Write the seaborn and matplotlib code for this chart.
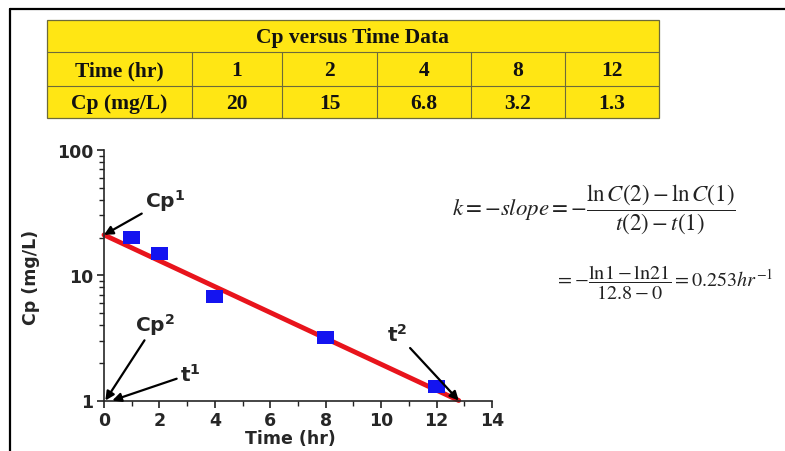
import numpy as np
import pandas as pd
import matplotlib
matplotlib.use("Agg")
import matplotlib.pyplot as plt
from matplotlib.patches import Rectangle
from matplotlib.lines import Line2D
from matplotlib.ticker import FixedLocator, NullFormatter, FixedFormatter
import seaborn as sns

# data
time_hr = [1, 2, 4, 8, 12]
cp_mgL = [20, 15, 6.8, 3.2, 1.3]
cp_labels = ["20", "15", "6.8", "3.2", "1.3"]
fit_time = [0, 12.8]
fit_cp = [21, 1]

RED = "#e8141c"
BLUE = "#1414f0"
YELLOW = "#ffe614"

sns.set_style("ticks")
plt.rcParams["font.family"] = ["DejaVu Sans"]
plt.rcParams["axes.linewidth"] = 1.2

W, H = 785, 452
fig = plt.figure(figsize=(W / 100, H / 100), dpi=100)

# main plot
ax = fig.add_axes([104 / W, 1 - 401.5 / H, 388 / W, 250.5 / H])
ax.patch.set_alpha(0)

df_pts = pd.DataFrame({"t": time_hr, "cp": cp_mgL})
df_fit = pd.DataFrame({"t": fit_time, "cp": fit_cp})

sns.lineplot(data=df_fit, x="t", y="cp", color=RED, lw=3.5, ax=ax,
             clip_on=False, zorder=2)
rect_marker = [(-1, -0.76), (1, -0.76), (1, 0.76), (-1, 0.76), (-1, -0.76)]
sns.scatterplot(data=df_pts, x="t", y="cp", marker=rect_marker, s=150,
                color=BLUE, edgecolor="none", ax=ax, zorder=3, clip_on=False)

ax.set_yscale("log")
ax.set_xlim(0, 14)
ax.set_ylim(1, 100)
sns.despine(ax=ax)

ax.xaxis.set_major_locator(FixedLocator(np.arange(0, 15, 2)))
ax.xaxis.set_minor_locator(FixedLocator(np.arange(1, 14, 2)))
ax.yaxis.set_major_locator(FixedLocator([1, 10, 100]))
ax.yaxis.set_major_formatter(FixedFormatter(["1", "10", "100"]))
minor_y = [m * d for d in (1, 10) for m in range(2, 10)]
ax.yaxis.set_minor_locator(FixedLocator(minor_y))
ax.yaxis.set_minor_formatter(NullFormatter())
ax.tick_params(which="major", length=5, width=1.2, labelsize=12.5, pad=2.5,
               color="#222222")
ax.tick_params(which="minor", length=3.5, width=1.0, color="#222222")
for lab in ax.get_xticklabels() + ax.get_yticklabels():
    lab.set_fontweight("bold")

ax.set_xlabel("Time (hr)", fontsize=12.5, fontweight="bold")
ax.set_ylabel("Cp (mg/L)", fontsize=12.5, fontweight="bold")
ax.xaxis.set_label_coords(0.48, -0.115)
ax.yaxis.set_label_coords(-0.165, 0.497)

# arrows and labels on the plot
arrow = dict(arrowstyle="-|>", color="black", lw=1.6, mutation_scale=13,
             shrinkA=0, shrinkB=0)
notes = [
    (r"$\mathbf{Cp}^{\mathbf{1}}$", (0, 21), (1.48, 35)),
    (r"$\mathbf{Cp}^{\mathbf{2}}$", (0.05, 1.0), (1.12, 3.6)),
    (r"$\mathbf{t}^{\mathbf{1}}$", (0.3, 1.0), (2.74, 1.43)),
    (r"$\mathbf{t}^{\mathbf{2}}$", (12.8, 1.0), (10.2, 3.0)),
]
for txt, tip, pos in notes:
    ax.annotate(txt, xy=tip, xytext=pos, fontsize=14.5, ha="left",
                va="baseline", arrowprops=arrow, annotation_clip=False)

# overlay in pixel coordinates: frame, table, equations
ov = fig.add_axes([0, 0, 1, 1])
ov.set_xlim(0, W)
ov.set_ylim(H, 0)
ov.axis("off")

ov.add_line(Line2D([9.5, W], [10, 10], color="black", lw=1.6))
ov.add_line(Line2D([9.5, 9.5], [10, H], color="black", lw=1.6))

col_edges = [47, 192, 282, 377, 471, 565, 659]
row_edges = [21, 53, 87, 119]
edge = "#6d6a3a"
ov.add_patch(Rectangle((col_edges[0], row_edges[0]), col_edges[-1] - col_edges[0],
                       row_edges[-1] - row_edges[0], facecolor=YELLOW,
                       edgecolor=edge, lw=0.9))
for y in row_edges[1:-1]:
    ov.add_line(Line2D([col_edges[0], col_edges[-1]], [y, y], color=edge, lw=0.8))
for x in col_edges[1:-1]:
    ov.add_line(Line2D([x, x], [row_edges[1], row_edges[-1]], color=edge, lw=0.8))

serif = dict(family="Liberation Serif", fontweight="bold", fontsize=15.5,
             ha="center", va="center", color="#111111")
ov.text((col_edges[0] + col_edges[-1]) / 2, (row_edges[0] + row_edges[1]) / 2 + 1,
        "Cp versus Time Data", **serif)
row_titles = ["Time (hr)", "Cp (mg/L)"]
row_vals = [[str(t) for t in time_hr], cp_labels]
for r in range(2):
    yc = (row_edges[r + 1] + row_edges[r + 2]) / 2 + 1
    ov.text((col_edges[0] + col_edges[1]) / 2, yc, row_titles[r], **serif)
    for c, v in enumerate(row_vals[r]):
        ov.text((col_edges[c + 1] + col_edges[c + 2]) / 2, yc, v, **serif)

eq_col = "#222222"
ov.text(452, 209, r"$k=-slope=-\dfrac{\ln C(2)-\ln C(1)}{t(2)-t(1)}$",
        fontsize=16.5, ha="left", va="center", color=eq_col,
        math_fontfamily="stix")
ov.text(555, 283,
        r"$=-\dfrac{\mathrm{ln}1-\mathrm{ln}21}{12.8-0}=0.253hr^{-1}$",
        fontsize=14.5, ha="left", va="center", color=eq_col,
        math_fontfamily="stix")

fig.savefig("out.png", dpi=100)
